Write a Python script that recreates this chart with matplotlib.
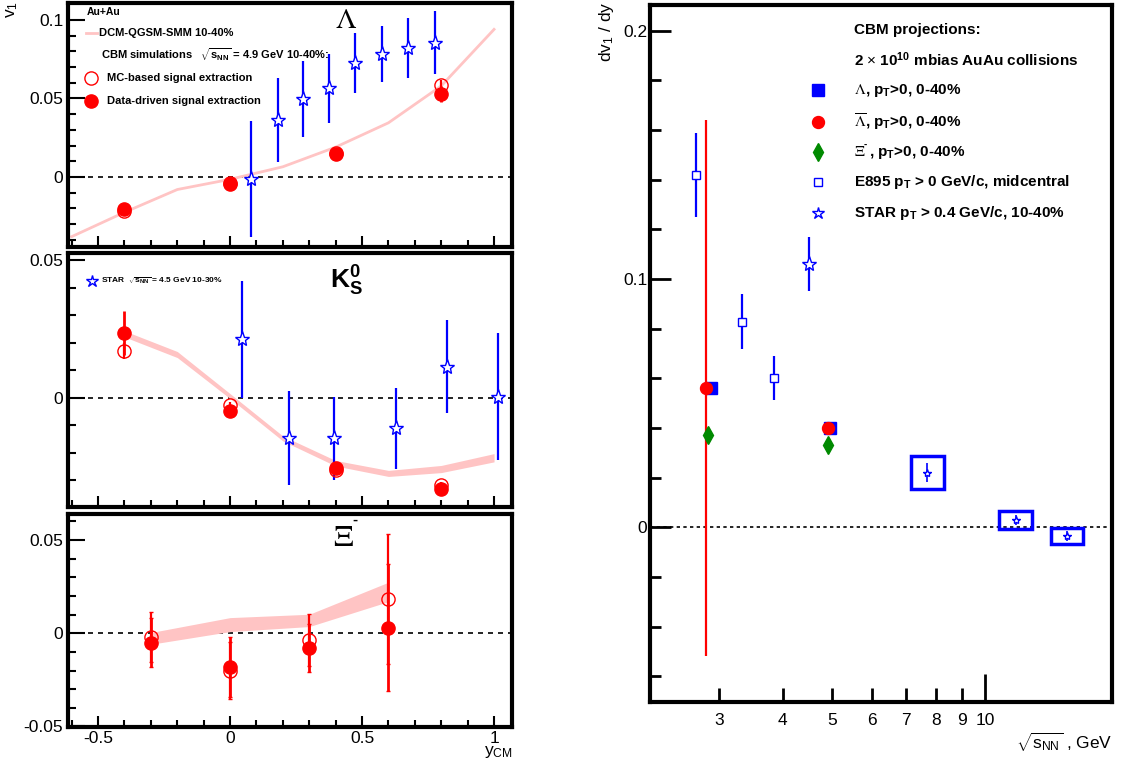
import numpy as np
import matplotlib
matplotlib.use("Agg")
import matplotlib.pyplot as plt
from matplotlib.patches import Rectangle

plt.rcParams['font.family'] = ['Liberation Sans', 'DejaVu Sans']
plt.rcParams['mathtext.fontset'] = 'custom'
plt.rcParams['mathtext.rm'] = 'Liberation Sans'
plt.rcParams['mathtext.it'] = 'Liberation Sans'
plt.rcParams['mathtext.bf'] = 'Liberation Sans:bold'
plt.rcParams['axes.unicode_minus'] = False

#colours (ROOT like)
red = '#ff0000'
blue = '#0000ff'
green = '#008a00'
pink = '#ffc4c4'

#---------- left side: v1 vs y_CM ----------
#Lambda
lam_y = [-0.4, 0.0, 0.4, 0.8]
lam_dd = [-0.0205, -0.0047, 0.0146, 0.053]
lam_dd_err = [0.002, 0.002, 0.002, 0.005]
lam_mc = [-0.0214, -0.004, 0.015, 0.0586]
lam_mc_err = [0.002, 0.002, 0.002, 0.003]
dcm_y = [-0.6, -0.4, -0.2, 0.0, 0.2, 0.4, 0.6, 0.8, 1.0]
lam_dcm = [-0.038, -0.0225, -0.008, -0.0015, 0.0065, 0.019, 0.0345, 0.058, 0.094]
lam_star_y = [0.08, 0.18, 0.275, 0.375, 0.475, 0.575, 0.675, 0.775]
lam_star = [-0.0015, 0.0363, 0.0497, 0.0565, 0.0724, 0.0782, 0.082, 0.0855]
lam_star_err = [0.037, 0.027, 0.024, 0.022, 0.019, 0.018, 0.019, 0.02]

#K0s
k0_y = [-0.4, 0.0, 0.4, 0.8]
k0_dd = [0.0234, -0.0048, -0.0254, -0.0333]
k0_dd_err = [0.008, 0.001, 0.001, 0.002]
k0_mc = [0.017, -0.0027, -0.0263, -0.0317]
k0_mc_err = [0.003, 0.001, 0.001, 0.001]
k0_dcm_y = [-0.4, -0.2, 0.0, 0.2, 0.4, 0.6, 0.8, 1.0]
k0_dcm = [0.0232, 0.0157, 0.0006, -0.0148, -0.0238, -0.0275, -0.0259, -0.0218]
k0_dcm_w = [0.0011, 0.0011, 0.0009, 0.0009, 0.001, 0.0011, 0.0013, 0.0015]
k0_star_y = [0.047, 0.222, 0.395, 0.629, 0.821, 1.014]
k0_star = [0.0213, -0.0145, -0.0148, -0.0111, 0.0113, 0.0004]
k0_star_err = [0.0213, 0.0171, 0.0151, 0.0148, 0.0168, 0.0232]

#Xi-
xi_y = [-0.3, 0.0, 0.3, 0.6]
xi_dd = [-0.005, -0.0182, -0.008, 0.003]
xi_dd_err = [0.013, 0.016, 0.013, 0.034]
xi_mc = [-0.0021, -0.02, -0.0036, 0.0184]
xi_mc_err = [0.0134, 0.0155, 0.0142, 0.035]
xi_dcm_lo = [-0.0059, 0.0009, 0.0036, 0.017]
xi_dcm_hi = [0.0004, 0.0084, 0.0102, 0.0274]

#---------- right side: dv1/dy vs sqrt(s_NN) ----------
e895_e = [2.7, 3.32, 3.84]
e895_v = [0.1419, 0.0828, 0.060]
e895_err = [0.0168, 0.011, 0.0088]
star_e = [4.5, 7.7, 11.5, 14.5]
star_v = [0.106, 0.022, 0.0029, -0.0035]
star_err = [0.011, 0.004, 0.002, 0.002]
star_sys = [0.0, 0.0067, 0.0037, 0.0032]
cbm_lam_e = [2.89, 4.95]
cbm_lam_v = [0.056, 0.0399]
cbm_alam_e = [2.83, 4.9]
cbm_alam_v = [0.056, 0.0399]
cbm_alam_err = [0.108, 0.0005]
cbm_xi_e = [2.85, 4.92]
cbm_xi_v = [0.037, 0.033]

fig = plt.figure(figsize=(11.44, 7.67), dpi=100)

W, H = 1144.0, 767.0
def box(x0, y0, x1, y1):
    #pixel box -> figure fraction
    return [x0 / W, 1 - y1 / H, (x1 - x0) / W, (y1 - y0) / H]

ax1 = fig.add_axes(box(68, 3, 512, 247))
ax2 = fig.add_axes(box(68, 253, 512, 507))
ax3 = fig.add_axes(box(68, 514, 512, 727))
ax4 = fig.add_axes(box(650, 5, 1112, 702))

for ax in (ax1, ax2, ax3, ax4):
    for s in ax.spines.values():
        s.set_linewidth(3)

for ax in (ax1, ax2, ax3):
    ax.set_xlim(-0.614, 1.068)
    ax.set_xticks([-0.5, 0, 0.5, 1])
    ax.set_xticks(np.arange(-0.6, 1.05, 0.1), minor=True)
    ax.tick_params(which='both', direction='in', top=False, right=False, width=1.5, labelsize=12.5)
    ax.tick_params(axis='y', which='major', length=12)
    ax.tick_params(axis='y', which='minor', length=6)
    ax.tick_params(axis='x', which='major', length=8, pad=3)
    ax.tick_params(axis='x', which='minor', length=5)
    ax.axhline(0, color='k', ls=(0, (3, 3)), lw=1.2, zorder=1)

ax1.tick_params(labelbottom=False)
ax2.tick_params(labelbottom=False)
ax3.set_xticklabels(['-0.5', '0', '0.5', '1'])

#--- Lambda panel
ax1.set_ylim(-0.0446, 0.1108)
ax1.set_yticks([0, 0.05, 0.1], ['0', '0.05', '0.1'])
ax1.set_yticks(np.arange(-0.04, 0.11, 0.01), minor=True)
ax1.plot(dcm_y, lam_dcm, color=pink, lw=2, zorder=2)
ax1.errorbar(lam_star_y, lam_star, yerr=lam_star_err, fmt='*', color=blue, mfc='white', mec=blue,
             ms=11, mew=1, elinewidth=1.6, capsize=0, zorder=3)
ax1.errorbar(lam_y, lam_mc, yerr=lam_mc_err, fmt='o', color=red, mfc='none', ms=9.5, mew=1,
             elinewidth=1.6, capsize=0, zorder=4)
ax1.errorbar(lam_y, lam_dd, yerr=lam_dd_err, fmt='o', color=red, ms=9.5, elinewidth=2, capsize=0, zorder=5)

tx = ax1.transAxes
ax1.text(0.0428, 0.963, 'Au+Au', transform=tx, fontsize=7.5, fontweight='bold', va='center')
ax1.plot([0.0405, 0.0653], [0.877, 0.877], transform=tx, color=pink, lw=2)
ax1.text(0.0698, 0.877, 'DCM-QGSM-SMM 10-40%', transform=tx, fontsize=8, fontweight='bold', va='center')
ax1.text(0.0743, 0.787, r'CBM simulations   $\sqrt{\mathbf{s}_{\mathbf{NN}}}$ = 4.9 GeV 10-40%:', transform=tx,
         fontsize=8, fontweight='bold', va='center')
ax1.plot([0.0518], [0.693], 'o', transform=tx, mfc='none', mec=red, ms=9.5, mew=1)
ax1.text(0.0878, 0.693, 'MC-based signal extraction', transform=tx, fontsize=8, fontweight='bold', va='center')
ax1.plot([0.0518], [0.598], 'o', transform=tx, color=red, ms=9.5)
ax1.text(0.0878, 0.598, 'Data-driven signal extraction', transform=tx, fontsize=8, fontweight='bold', va='center')
ax1.text(0.626, 0.93, r'$\Lambda$', transform=tx, fontsize=21, ha='center', va='center', math_fontfamily='stix')

#--- K0s panel
ax2.set_ylim(-0.0397, 0.0526)
ax2.set_yticks([0, 0.05], ['0', '0.05'])
ax2.set_yticks(np.arange(-0.03, 0.05, 0.01), minor=True)
lo = np.array(k0_dcm) - np.array(k0_dcm_w)
hi = np.array(k0_dcm) + np.array(k0_dcm_w)
ax2.fill_between(k0_dcm_y, lo, hi, color=pink, lw=0, zorder=2)
ax2.errorbar(k0_star_y, k0_star, yerr=k0_star_err, fmt='*', color=blue, mfc='white', mec=blue,
             ms=11, mew=1, elinewidth=1.6, capsize=0, zorder=3)
ax2.errorbar(k0_y, k0_mc, yerr=k0_mc_err, fmt='o', color=red, mfc='none', ms=9.5, mew=1,
             elinewidth=1.6, capsize=0, zorder=4)
ax2.errorbar(k0_y, k0_dd, yerr=k0_dd_err, fmt='o', color=red, ms=9.5, elinewidth=2, capsize=0, zorder=5)
tx = ax2.transAxes
ax2.plot([0.054], [0.89], '*', transform=tx, mfc='white', mec=blue, ms=9, mew=1)
ax2.text(0.0743, 0.89, r'STAR  $\sqrt{\mathbf{s}_{\mathbf{NN}}}$ = 4.5 GeV 10-30%', transform=tx,
         fontsize=6, fontweight='bold', va='center')
ax2.text(0.628, 0.89, r'$\mathbf{K^0_S}$', transform=tx, fontsize=19, ha='center', va='center')

#--- Xi panel
ax3.set_ylim(-0.0503, 0.064)
ax3.set_yticks([-0.05, 0, 0.05], ['-0.05', '0', '0.05'])
ax3.set_yticks(np.arange(-0.04, 0.065, 0.01), minor=True)
ax3.fill_between(xi_y, xi_dcm_lo, xi_dcm_hi, color=pink, lw=0, zorder=2)
ax3.errorbar(xi_y, xi_mc, yerr=xi_mc_err, fmt='o', color=red, mfc='none', ms=9.5, mew=1,
             elinewidth=1.6, capsize=1.5, zorder=4)
ax3.errorbar(xi_y, xi_dd, yerr=xi_dd_err, fmt='o', color=red, ms=9.5, elinewidth=2, capsize=1.5, zorder=5)
tx = ax3.transAxes
ax3.text(0.62, 0.885, r'$\Xi$', transform=tx, fontsize=22, ha='center', va='center',
         math_fontfamily='stix')
ax3.text(0.647, 0.975, '-', transform=tx, fontsize=11, fontweight='bold', ha='center', va='center')

fig.text(12 / W, 1 - 1 / H, 'v$_1$', fontsize=12.5, rotation=90, ha='center', va='top')
fig.text(513 / W, 1 - 752 / H, 'y$_{CM}$', fontsize=12.5, ha='right', va='center')

#--- right panel
ax4.set_xscale('log')
ax4.set_xlim(2.192, 17.78)
ax4.set_ylim(-0.0704, 0.2103)
ax4.set_xticks([10], ['10'])
ax4.set_xticks([3, 4, 5, 6, 7, 8, 9], ['3', '4', '5', '6', '7', '8', '9'], minor=True)
ax4.set_yticks([0, 0.1, 0.2], ['0', '0.1', '0.2'])
ax4.set_yticks(np.arange(-0.06, 0.2, 0.02), minor=True)
ax4.tick_params(which='both', direction='in', top=False, right=False, width=2, labelsize=12.5)
ax4.tick_params(axis='x', which='major', length=20, pad=8)
ax4.tick_params(axis='x', which='minor', length=10, pad=8)
ax4.tick_params(axis='y', which='major', length=15, pad=2)
ax4.tick_params(axis='y', which='minor', length=8)
ax4.axhline(0, color='k', ls=(0, (2, 2)), lw=1.2, zorder=1)

#STAR systematic boxes
for e, v, s in zip(star_e, star_v, star_sys):
    if s > 0:
        ax4.add_patch(Rectangle((e / 1.077, v - s), e * 1.077 - e / 1.077, 2 * s, fill=False,
                                ec=blue, lw=2.5, zorder=3))
ax4.errorbar(star_e[:1], star_v[:1], yerr=star_err[:1], fmt='*', mfc='white', mec=blue, color=blue,
             ms=11, mew=1, elinewidth=1.6, capsize=0, zorder=4)
ax4.errorbar(star_e[1:], star_v[1:], yerr=star_err[1:], fmt='*', mfc='white', mec=blue, color=blue,
             ms=6, mew=1, elinewidth=1.2, capsize=0, zorder=4)
ax4.errorbar(e895_e, e895_v, yerr=e895_err, fmt='s', mfc='white', mec=blue, color=blue,
             ms=6, mew=1, elinewidth=1.6, capsize=0, zorder=4)
ax4.plot(cbm_lam_e, cbm_lam_v, 's', color=blue, ms=8.6, zorder=5)
ax4.errorbar(cbm_alam_e, cbm_alam_v, yerr=cbm_alam_err, fmt='o', color=red, ms=8.6,
             elinewidth=1.6, capsize=0, zorder=6)
ax4.plot(cbm_xi_e, cbm_xi_v, 'd', color=green, ms=9.2, zorder=6)

#legend drawn by hand
tx = ax4.transAxes
mx = 0.3636
lx = 0.4416
ax4.text(lx, 0.964, 'CBM projections:', transform=tx, fontsize=11, fontweight='bold', va='center')
ax4.text(lx, 0.921, r'2 $\times$ 10$^{\mathbf{10}}$ mbias AuAu collisions', transform=tx, fontsize=11,
         fontweight='bold', va='center')
ax4.plot([mx], [0.878], 's', transform=tx, color=blue, ms=8.6)
ax4.text(lx, 0.878, r'$\Lambda$', transform=tx, fontsize=11, va='center', math_fontfamily='stix')
ax4.text(0.465, 0.878, r', p$_{\mathbf{T}}$>0, 0-40%', transform=tx, fontsize=11, fontweight='bold', va='center')
ax4.plot([mx], [0.832], 'o', transform=tx, color=red, ms=8.6)
ax4.text(lx, 0.832, r'$\overline{\Lambda}$', transform=tx, fontsize=11, va='center', math_fontfamily='stix')
ax4.text(0.465, 0.832, r', p$_{\mathbf{T}}$>0, 0-40%', transform=tx, fontsize=11, fontweight='bold', va='center')
ax4.plot([mx], [0.789], 'd', transform=tx, color=green, ms=9.2)
ax4.text(lx, 0.789, r'$\Xi$', transform=tx, fontsize=11, va='center', math_fontfamily='stix')
ax4.text(0.463, 0.80, '-', transform=tx, fontsize=7, fontweight='bold', va='center')
ax4.text(0.474, 0.789, r', p$_{\mathbf{T}}$>0, 0-40%', transform=tx, fontsize=11, fontweight='bold', va='center')
ax4.plot([mx], [0.746], 's', transform=tx, mfc='white', mec=blue, ms=6, mew=1)
ax4.text(lx, 0.746, r'E895 p$_{\mathbf{T}}$ > 0 GeV/c, midcentral', transform=tx, fontsize=11,
         fontweight='bold', va='center')
ax4.plot([mx], [0.702], '*', transform=tx, mfc='white', mec=blue, ms=9, mew=1)
ax4.text(lx, 0.702, r'STAR p$_{\mathbf{T}}$ > 0.4 GeV/c, 10-40%', transform=tx, fontsize=11,
         fontweight='bold', va='center')

fig.text(606 / W, 1 - 1 / H, 'dv$_1$ / dy', fontsize=12.5, rotation=90, ha='center', va='top')
fig.text(1112 / W, 1 - 742 / H, r'$\sqrt{s_{NN}}$ , GeV', fontsize=12.5, ha='right', va='center')

fig.savefig('out.png', dpi=100)
